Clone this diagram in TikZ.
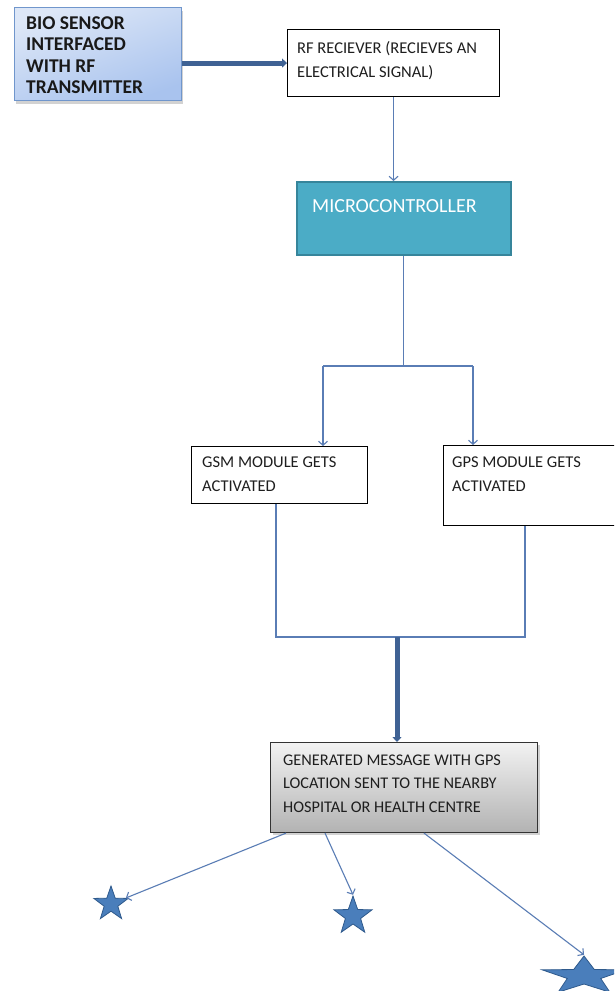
\documentclass[tikz,border=0pt]{standalone}
\usepackage{fontspec}
\setmainfont{Carlito}
\usetikzlibrary{arrows.meta,shapes.geometric,calc,shadows}
\definecolor{thinln}{HTML}{5A7DB5}
\definecolor{thickln}{HTML}{3F6294}
\definecolor{aqua}{HTML}{4BACC6}
\definecolor{aquadark}{HTML}{36859B}
\definecolor{starfill}{HTML}{4A7EBB}
\definecolor{stardraw}{HTML}{2F5A8C}
\definecolor{biotop}{HTML}{DDE7F7}
\definecolor{biobot}{HTML}{A9C3EE}
\definecolor{bioedge}{HTML}{7096CC}
\definecolor{txt}{HTML}{1E1E1E}
\tikzset{
  box/.style={rectangle, inner sep=0pt, anchor=north west},
  plainbox/.style={box, draw=black, line width=1.1pt, fill=white},
  label/.style={anchor=base west, inner sep=0pt, align=left, text=txt},
  small/.style={font=\fontsize{16.5}{24}\selectfont},
  thinarrow/.style={draw=thinln, line width=1.1pt, -{Straight Barb[length=4pt,width=9pt]}},
  thinline/.style={draw=thinln, line width=1.1pt},
  thickarrow/.style={draw=thickln, line width=5pt, -{Triangle[length=5pt,width=9pt]}},
  starnode/.style={star, star points=5, star point ratio=2.5, inner sep=0pt, fill=starfill, draw=stardraw, line width=0.8pt}
}
\begin{document}
\begin{tikzpicture}[x=1pt, y=-1pt]
\useasboundingbox (0,0) rectangle (614,991);
\clip (0,0) rectangle (614,991);
\fill[white] (0,0) rectangle (614,991);

% boxes
\node[box, minimum width=167pt, minimum height=93pt, draw=bioedge, line width=1.2pt,
  shading=axis, top color=biotop, bottom color=biobot, shading angle=20,
  drop shadow={shadow xshift=1pt, shadow yshift=-3pt, opacity=0.35}] (bio) at (14,7) {};
\node[label, font=\bfseries\fontsize{19.5}{21.5}\selectfont, text=black!90] (biot) at (26,93.5)
  {BIO SENSOR\\INTERFACED\\WITH RF\\TRANSMITTER};

\node[plainbox, minimum width=212pt, minimum height=67pt] (rf) at (287,29) {};
\node[label, small] (rft) at (297,77) {RF RECIEVER (RECIEVES AN\\ELECTRICAL SIGNAL)};

\node[box, minimum width=214pt, minimum height=73pt, fill=aqua, draw=aquadark, line width=1.6pt] (micro) at (296,181) {};
\node[label, text=white, font=\fontsize{20}{22}\selectfont] (microt) at (312,212) {MICROCONTROLLER};

\node[plainbox, minimum width=176pt, minimum height=57pt] (gsm) at (191,446) {};
\node[label, small] (gsmt) at (202,491) {GSM MODULE GETS\\ACTIVATED};

\node[plainbox, minimum width=220pt, minimum height=80pt] (gps) at (443,445) {};
\node[label, small] (gpst) at (452,491) {GPS MODULE GETS\\ACTIVATED};

\node[box, minimum width=267pt, minimum height=90pt, draw=black!80, line width=1.1pt,
  top color=white!95!black, bottom color=black!30,
  drop shadow={shadow xshift=2pt, shadow yshift=-2pt, opacity=0.35}] (msg) at (270,742) {};
\node[label, font=\fontsize{16.3}{23.5}\selectfont] (msgt) at (283,812)
  {GENERATED MESSAGE WITH GPS\\LOCATION SENT TO THE NEARBY\\HOSPITAL OR HEALTH CENTRE};

% stars
\node[starnode, minimum size=36pt] (s1) at (111,904) {};
\node[starnode, minimum size=40pt] (s2) at (353,916) {};
\begin{scope}[shift={(584,976)}, xscale=2.2]
  \node[starnode, minimum size=40pt, transform shape] (s3) at (0,0) {};
\end{scope}

% junction coordinates
\coordinate (ga) at (323,366);
\coordinate (pa) at (473,366);
\coordinate (ma) at (276,637);
\coordinate (mb) at (525,637);
\coordinate (mc) at (397,637);

% connectors
\draw[thickarrow] (bio.east |- rf.west) -- (rf.west);
\draw[thinarrow] (rf.south) -- (rf.south |- micro.north);
\draw[thinline] (micro.south) -- (micro.south |- ga);
\draw[thinline] (ga) -- (pa);
\draw[thinarrow] (ga) -- (ga |- gsm.north);
\draw[thinarrow] (pa) -- (pa |- gps.north);
\draw[thinline] (ma |- gsm.south) -- (ma) -- (mb) -- (mb |- gps.south);
\draw[thickarrow] (mc) -- (mc |- msg.north);
\draw[thinarrow] ($(msg.south west)+(16,0)$) -- (s1);
\draw[thinarrow] ($(msg.south west)+(55,0)$) -- (s2.north);
\draw[thinarrow] ($(msg.south west)+(154,0)$) -- (s3.north);
\end{tikzpicture}
\end{document}
